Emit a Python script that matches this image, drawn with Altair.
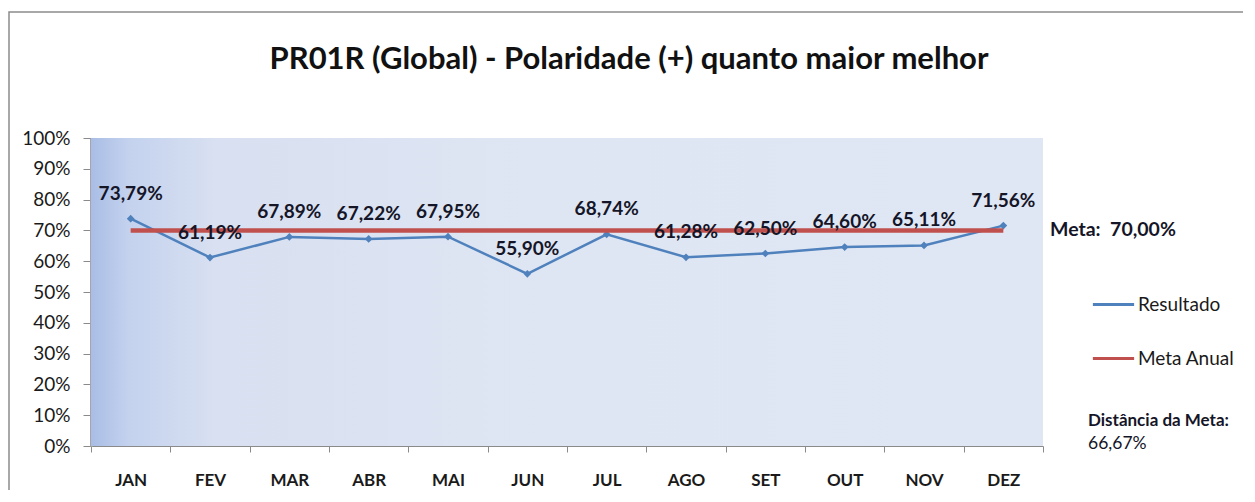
import altair as alt
import pandas as pd

months = ["JAN", "FEV", "MAR", "ABR", "MAI", "JUN", "JUL", "AGO", "SET", "OUT", "NOV", "DEZ"]
resultado = [73.79, 61.19, 67.89, 67.22, 67.95, 55.90, 68.74, 61.28, 62.50, 64.60, 65.11, 71.56]
meta = 70.0
distancia = 66.67
series = ["Resultado", "Meta Anual"]
colors = ["#4f81bd", "#c0504d"]
y_ticks = list(range(0, 101, 10))
title_text = "PR01R (Global) - Polaridade (+) quanto maior melhor"


def fmt(v):
    return f"{v:.2f}".replace(".", ",") + "%"


df_res = pd.DataFrame({"mes": months, "valor": resultado,
                       "label": [fmt(v) for v in resultado], "serie": series[0]})
df_meta = pd.DataFrame({"mes": months, "valor": [meta] * len(months), "serie": series[1]})

W, H = 952, 308
FONT = "Lato"

x_enc = alt.X("mes:N", sort=months,
              scale=alt.Scale(type="band", paddingInner=0, paddingOuter=0),
              axis=alt.Axis(title=None, labelAngle=0, tickBand="extent", labelFont=FONT,
                            labelFontWeight="bold", labelFontSize=17, labelColor="#1a1a1a",
                            labelPadding=20, tickSize=6, tickColor="#8a8a8a",
                            domainColor="#8a8a8a", domainWidth=1))
y_enc = alt.Y("valor:Q", scale=alt.Scale(domain=[0, 100]),
              axis=alt.Axis(title=None, values=y_ticks, labelExpr="datum.value + '%'",
                            grid=False, tickSize=8, tickColor="#8a8a8a", labelPadding=13,
                            labelOverlap=False, labelFont=FONT, labelFontSize=19,
                            labelColor="#1a1a1a", domainColor="#a6a6a6", domainWidth=3))

color_enc = alt.Color("serie:N", scale=alt.Scale(domain=series, range=colors),
                      legend=alt.Legend(orient="none", legendX=1000, legendY=144, title=None,
                                        symbolType="stroke", symbolStrokeWidth=3,
                                        symbolSize=1700, labelFont=FONT, labelFontSize=19,
                                        labelColor="#1a1a1a", rowPadding=21, labelOffset=2))

one = pd.DataFrame({"a": [0]})
grad = alt.Gradient(gradient="linear", x1=0, x2=1, y1=0, y2=0,
                    stops=[alt.GradientStop(offset=0, color="#a9bde5"),
                           alt.GradientStop(offset=0.04, color="#c4d2ee"),
                           alt.GradientStop(offset=0.13, color="#d8e0f1"),
                           alt.GradientStop(offset=0.5, color="#dfe6f3"),
                           alt.GradientStop(offset=1, color="#e0e7f4")])
bg = alt.Chart(one).mark_rect(fill=grad).encode(
    x=alt.value(0), x2=alt.value(W), y=alt.value(0), y2=alt.value(H))

border = alt.Chart(one).mark_rect(fillOpacity=0, stroke="#8c8c8c", strokeWidth=1.5).encode(
    x=alt.value(-82), x2=alt.value(W + 400), y=alt.value(-126), y2=alt.value(H + 200))

title = alt.Chart(pd.DataFrame({"t": [title_text]})).mark_text(
    align="center", baseline="alphabetic", font=FONT, fontSize=31, fontWeight="bold",
    color="#111111").encode(x=alt.value(538), y=alt.value(-69), text="t:N")

line = alt.Chart(df_res).mark_line(
    strokeWidth=2.5,
    point=alt.OverlayMarkDef(shape="diamond", size=60, filled=True, color=colors[0])
).encode(x=x_enc, y=y_enc, color=color_enc)

meta_line = alt.Chart(df_meta).mark_line(strokeWidth=4.5).encode(
    x=x_enc, y=y_enc, color=color_enc)

labels = alt.Chart(df_res).mark_text(dy=-25, font=FONT, fontSize=19, fontWeight="bold",
                                     color="#151528").encode(
    x=x_enc, y=y_enc, text="label:N")

meta_txt = alt.Chart(pd.DataFrame({"t": [f"Meta:\u00a0\u00a0{fmt(meta)}"],
                                   "valor": [meta]})).mark_text(
    align="left", font=FONT, fontSize=19.5, fontWeight="bold", color="#151528").encode(
    x=alt.value(959), y=y_enc, text="t:N")

dist_title = alt.Chart(pd.DataFrame({"t": ["Distância da Meta:"]})).mark_text(
    align="left", font=FONT, fontSize=17, fontWeight="bold", color="#151528").encode(
    x=alt.value(997), y=alt.value(283), text="t:N")
dist_val = alt.Chart(pd.DataFrame({"t": [fmt(distancia)]})).mark_text(
    align="left", font=FONT, fontSize=17.5, color="#151528").encode(
    x=alt.value(997), y=alt.value(306), text="t:N")

chart = alt.layer(border, bg, title, line, meta_line, labels, meta_txt, dist_title,
                  dist_val).properties(
    width=W, height=H,
    padding={"left": 83, "top": 130, "right": 200, "bottom": 44},
    autosize=alt.AutoSizeParams(type="none"),
    background="white",
).configure_view(stroke=None)

chart.save("out.html", embed_options={"renderer": "svg", "actions": False})
